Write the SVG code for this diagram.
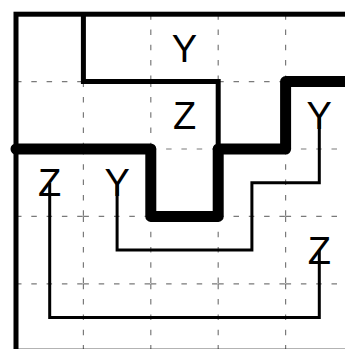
<svg xmlns="http://www.w3.org/2000/svg" width="345" height="349" viewBox="0 0 345 349">
<style>
.grid{fill:none;stroke:#7a7a7a;stroke-width:1.2;stroke-dasharray:5.5 9.8}
.border{fill:none;stroke:#000;stroke-width:5}
.wall{fill:none;stroke:#000;stroke-width:5;stroke-linejoin:miter}
.thick{fill:none;stroke:#000;stroke-width:11;stroke-linejoin:round;stroke-linecap:round}
.conn{fill:none;stroke:#000;stroke-width:3}
.lbl{font-family:"Liberation Sans",Arial,sans-serif;font-size:38px;fill:#000;text-anchor:middle}
</style>
<rect width="345" height="349" fill="#fff"/>
<g id="grid">
<path class="grid" d="M83.4 14.2v67.4m0 0v67.4m0 0v67.4m0 0v67.4m0 0v67.4 M150.8 14.2v67.4m0 0v67.4m0 0v67.4m0 0v67.4m0 0v67.4 M218.2 14.2v67.4m0 0v67.4m0 0v67.4m0 0v67.4m0 0v67.4 M285.6 14.2v67.4m0 0v67.4m0 0v67.4m0 0v67.4m0 0v67.4"/>
<path class="grid" d="M16 81.6h67.4m0 0h67.4m0 0h67.4m0 0h67.4m0 0h67.4 M16 149h67.4m0 0h67.4m0 0h67.4m0 0h67.4m0 0h67.4 M16 216.4h67.4m0 0h67.4m0 0h67.4m0 0h67.4m0 0h67.4 M16 283.8h67.4m0 0h67.4m0 0h67.4m0 0h67.4m0 0h67.4"/>
</g>
<g id="walls">
<rect class="border" x="16" y="14.2" width="337" height="337"/>
<path class="wall" d="M83.4 14.2V81.6H218.2V149"/>
<path class="thick" d="M16 149H150.8V216.4H218.2V149H285.6V81.6H360"/>
</g>
<g id="connectors">
<path class="conn" d="M49.7 182.7V317.5H319.3V250.1"/>
<path class="conn" d="M117.1 182.7V250.1H251.9V182.7H319.3V115.3"/>
</g>
<g id="node-y1"><text class="lbl" x="184.5" y="61.5">Y</text></g>
<g id="node-z1"><text class="lbl" x="184.5" y="128.9">Z</text></g>
<g id="node-z2"><text class="lbl" x="49.7" y="196.3">Z</text></g>
<g id="node-y2"><text class="lbl" x="117.1" y="196.3">Y</text></g>
<g id="node-y3"><text class="lbl" x="319.3" y="128.9">Y</text></g>
<g id="node-z3"><text class="lbl" x="319.3" y="263.7">Z</text></g>
</svg>
